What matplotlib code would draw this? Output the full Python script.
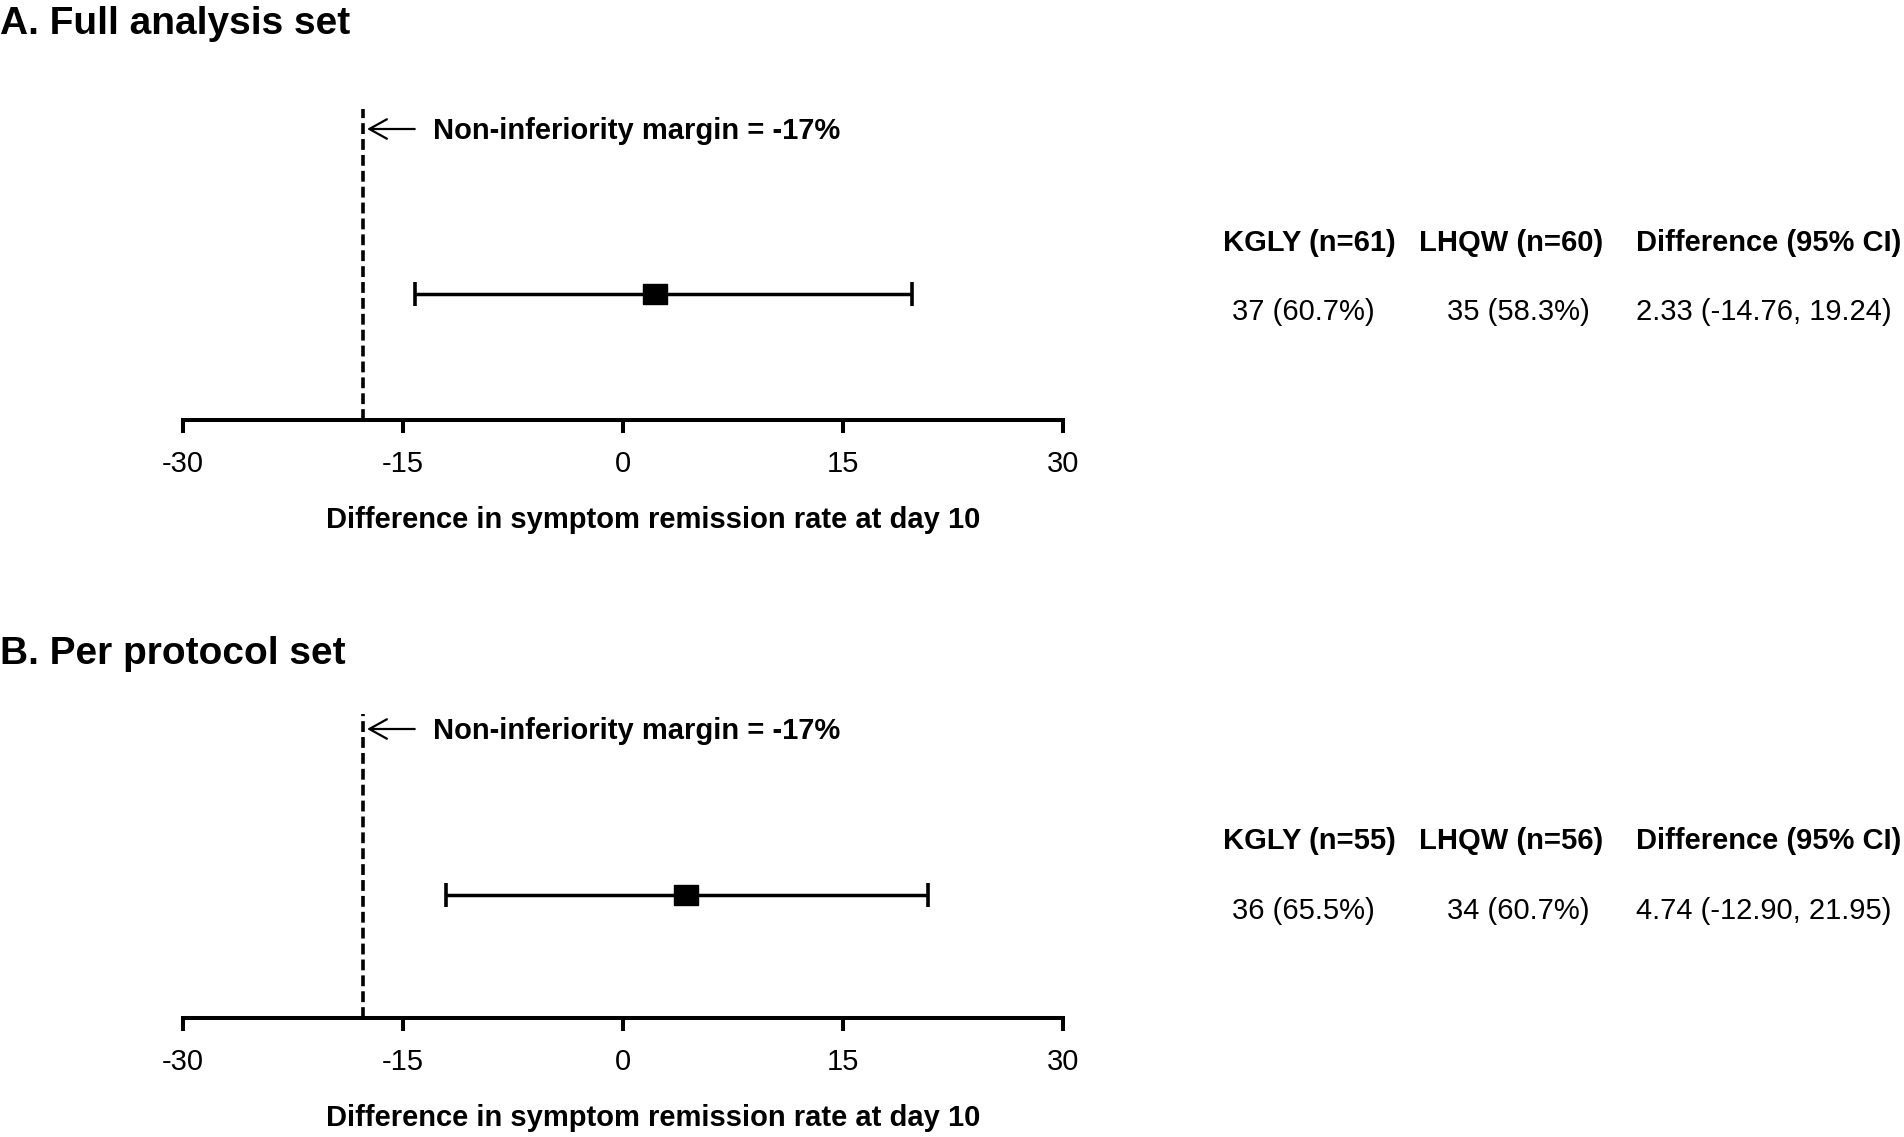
import matplotlib
matplotlib.use("Agg")
import matplotlib.pyplot as plt

plt.rcParams["font.family"] = ["Liberation Sans", "DejaVu Sans"]

W, H = 1904, 1137

# data
panel_titles = ["A. Full analysis set", "B. Per protocol set"]
margin_label = "Non-inferiority margin = -17%"
margin_pos = -17.7          # where the dashed line is drawn
estimates = [2.2, 4.3]      # plotted squares
ci_low = [-14.2, -12.1]     # plotted whisker ends
ci_high = [19.7, 20.8]
headers = [["KGLY (n=61)", "LHQW (n=60)", "Difference (95% CI)"],
           ["KGLY (n=55)", "LHQW (n=56)", "Difference (95% CI)"]]
rows = [["37 (60.7%)", "35 (58.3%)", "2.33 (-14.76, 19.24)"],
        ["36 (65.5%)", "34 (60.7%)", "4.74 (-12.90, 21.95)"]]
xticks = [-30, -15, 0, 15, 30]
xlabel = "Difference in symptom remission rate at day 10"

# layout in pixels: (axis line y, top of dashed line y, title y, header y, row y)
layouts = [(420, 109, 24, 243, 312), (1018, 714, 654, 841, 911)]
ax_left, ax_right = 183, 1063


def fy(py):
    return 1 - py / H


fig = plt.figure(figsize=(W / 100, H / 100), dpi=100)

# slightly wide box marker
box = [(-1.2, -1), (1.2, -1), (1.2, 1), (-1.2, 1), (-1.2, -1)]

for i, (y_axis, y_top, y_title, y_head, y_row) in enumerate(layouts):
    ax_h = y_axis - y_top
    ax = fig.add_axes([ax_left / W, fy(y_axis), (ax_right - ax_left) / W, ax_h / H])
    ax.set_xlim(-30, 30)
    ax.set_ylim(0, 1)
    for s in ["top", "right", "left"]:
        ax.spines[s].set_visible(False)
    ax.spines["bottom"].set_linewidth(2.9)
    ax.set_yticks([])
    ax.set_xticks(xticks)
    ax.set_xticklabels([str(t) for t in xticks], fontsize=21)
    ax.tick_params(axis="x", direction="out", length=9.5, width=2.9, pad=12)
    ax.set_xlabel(xlabel, fontsize=21, fontweight="bold", labelpad=20)
    # label sits a bit right of the axis centre in the original
    ax.xaxis.label.set_x(0.534)

    ax.axvline(margin_pos, ymin=0, ymax=1, color="black", lw=2.6, ls=(0, (3, 1.4)))

    y_bar = (y_axis - (294 if i == 0 else 895)) / ax_h
    ax.errorbar([estimates[i]], [y_bar],
                xerr=[[estimates[i] - ci_low[i]], [ci_high[i] - estimates[i]]],
                fmt="none", ecolor="black", elinewidth=2.5, capsize=8.3, capthick=2.6)
    ax.plot([estimates[i]], [y_bar], marker=box, color="black", ms=17, ls="none")

    y_ann = (y_axis - (129 if i == 0 else 729)) / ax_h
    ax.annotate("", xy=(-17.45, y_ann), xytext=(-14.2, y_ann),
                arrowprops=dict(arrowstyle="->,head_length=0.45,head_width=0.25",
                                lw=1.6, color="black", mutation_scale=28,
                                shrinkA=0, shrinkB=0))
    ax.annotate(margin_label, xy=(-12.95, y_ann), xytext=(0, -7.5),
                textcoords="offset points", fontsize=21, fontweight="bold",
                va="baseline", ha="left")

    fig.text(0.0, fy(y_title), panel_titles[i], fontsize=28, fontweight="bold",
             va="center", ha="left")

    head_x = [1309, 1511, 1636]
    row_x = [1303, 1518, 1636]
    aligns = ["center", "center", "left"]
    for j in range(3):
        fig.text(head_x[j] / W, fy(y_head), headers[i][j], fontsize=21,
                 fontweight="bold", va="center", ha=aligns[j])
        fig.text(row_x[j] / W, fy(y_row), rows[i][j], fontsize=21,
                 va="center", ha=aligns[j])

fig.savefig("out.png", dpi=100)
